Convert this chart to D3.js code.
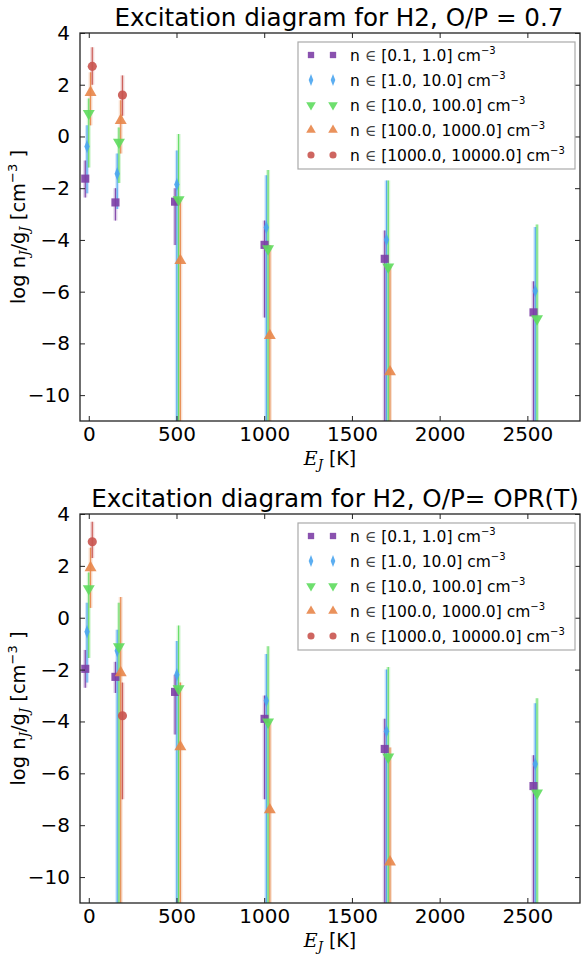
<!DOCTYPE html>
<html>
<head>
<meta charset="utf-8">
<script src="https://cdn.jsdelivr.net/npm/d3@7"></script>
<style>
	body { margin: 0; background: #fff; }
	svg text { font-family: "DejaVu Sans", sans-serif; fill: #000; }
</style>
</head>
<body>
<svg id="svg"></svg>
<script>

	"use strict";

	var energies = [0, 172, 512, 1022, 1707, 2555];
	var dodge = [-20, -10, 0, 10, 20];

	var binLabels = ["[0.1, 1.0]", "[1.0, 10.0]", "[10.0, 100.0]", "[100.0, 1000.0]", "[1000.0, 10000.0]"];
	var colors = ["#7d3fa6", "#4aa5f0", "#5edc5e", "#e8864a", "#c9544f"];

	var xTicks = [0, 500, 1000, 1500, 2000, 2500];
	var yTicks = [4, 2, 0, -2, -4, -6, -8, -10];

	var titles = ["Excitation diagram for H2, O/P = 0.7", "Excitation diagram for H2, O/P= OPR(T)"];

	// O/P = 0.7 panel : one row per density bin, one column per level
	var topValues = [
		[-1.63, -2.55, -2.52, -4.19, -4.73, -6.80],
		[-0.39, -1.44, -1.86, -3.52, -3.99, -5.97],
		[0.89, -0.22, -2.44, -4.34, -5.04, -7.05],
		[1.70, 0.62, -4.80, -7.70, -9.10, null],
		[2.71, 1.60, null, null, null, null]
	];
	var topUpper = [
		[-0.93, -2.00, -2.00, -3.25, -3.64, -5.60],
		[0.43, -0.66, -0.54, -1.50, -1.70, -3.50],
		[1.47, 0.35, 0.10, -1.30, -1.70, -3.40],
		[2.48, 1.40, -2.40, -4.20, -5.00, null],
		[3.45, 2.36, null, null, null, null]
	];
	var topLower = [
		[-2.36, -3.25, -4.20, -7.00, -12, -12],
		[-2.20, -2.80, -12, -12, -12, -12],
		[-1.20, -1.80, -12, -12, -12, -12],
		[0.43, -0.66, -12, -12, -12, null],
		[2.00, 0.80, null, null, null, null]
	];

	// O/P = OPR(T) panel
	var bottomValues = [
		[-1.97, -2.28, -2.86, -3.90, -5.06, -6.49],
		[-0.54, -1.27, -2.20, -3.20, -4.38, -5.64],
		[1.12, -1.12, -2.74, -4.02, -5.37, -6.76],
		[1.93, -2.12, -4.98, -7.41, -9.42, null],
		[2.93, -3.78, null, null, null, null]
	];
	var bottomUpper = [
		[-1.24, -1.70, -2.20, -3.00, -3.90, -5.30],
		[0.58, -0.46, -0.90, -1.40, -2.00, -3.30],
		[1.74, 0.58, -0.30, -1.10, -1.90, -3.10],
		[2.70, 0.80, -2.50, -4.00, -5.00, null],
		[3.70, -2.50, null, null, null, null]
	];
	var bottomLower = [
		[-2.70, -2.90, -4.50, -7.00, -12, -12],
		[-2.50, -12, -12, -12, -12, -12],
		[-1.55, -12, -12, -12, -12, -12],
		[0.38, -12, -12, -12, -12, null],
		[2.30, -7.00, null, null, null, null]
	];

	var
		width = 582,
		height = 955,

		svg = d3.select("#svg")
				.attr("width", width)
				.attr("height", height),

		x = d3.scaleLinear().domain([-50, 2800]).range([80, 580]),

		symbols = [
			d3.symbol().type(d3.symbolSquare).size(66),
			d3.symbol().type(d3.symbolDiamond).size(52),
			d3.symbol().type(d3.symbolTriangle).size(62),
			d3.symbol().type(d3.symbolTriangle).size(62),
			d3.symbol().type(d3.symbolCircle).size(66)
		],
		// extra transform per marker (diamond is thin, one triangle points down)
		symbolTf = ["", " scale(0.68,1)", " rotate(180)", "", ""],

		drawPanel = function(idx, top, bottom, values, upper, lower, titleX){

			var y = d3.scaleLinear().domain([-11, 4]).range([bottom, top]),
				g = svg.append("g").attr("class", "panel"),
				clipId = "clip" + idx;

			g.append("clipPath").attr("id", clipId)
				.append("rect")
				.attr("x", x.range()[0]).attr("y", top)
				.attr("width", x.range()[1] - x.range()[0])
				.attr("height", bottom - top);

			var plot = g.append("g").attr("clip-path", "url(#" + clipId + ")");

			// points flattened from the arrays
			var pts = [];
			values.forEach(function(row, s){
				row.forEach(function(v, j){
					if (v === null) return;
					pts.push({s: s, e: energies[j] + dodge[s], v: v, hi: upper[s][j], lo: lower[s][j]});
				});
			});

			// wide light band
			plot.selectAll("line.band")
				.data(pts)
				.enter()
				.append("line")
				.attr("class", "band")
				.attr("x1", function(d){return x(d.e)})
				.attr("x2", function(d){return x(d.e)})
				.attr("y1", function(d){return y(d.hi)})
				.attr("y2", function(d){return y(d.lo)})
				.style("stroke", function(d){return colors[d.s]})
				.style("stroke-width", 4)
				.style("stroke-opacity", 0.25);

			// thin error bar
			plot.selectAll("line.err")
				.data(pts)
				.enter()
				.append("line")
				.attr("class", "err")
				.attr("x1", function(d){return x(d.e)})
				.attr("x2", function(d){return x(d.e)})
				.attr("y1", function(d){return y(d.hi)})
				.attr("y2", function(d){return y(d.lo)})
				.style("stroke", function(d){return colors[d.s]})
				.style("stroke-width", 1.2)
				.style("stroke-opacity", 0.9);

			plot.selectAll("path.pt")
				.data(pts)
				.enter()
				.append("path")
				.attr("class", "pt")
				.attr("d", function(d){return symbols[d.s]()})
				.attr("transform", function(d){return "translate(" + x(d.e) + "," + y(d.v) + ")" + symbolTf[d.s]})
				.style("fill", function(d){return colors[d.s]})
				.style("fill-opacity", 0.9);

			// frame
			g.append("rect")
				.attr("x", x.range()[0]).attr("y", top)
				.attr("width", x.range()[1] - x.range()[0])
				.attr("height", bottom - top)
				.style("fill", "none")
				.style("stroke", "#222")
				.style("stroke-width", 1.3);

			// inward ticks on all four sides
			var tickLen = 5;
			var xAxisB = d3.axisBottom(x).tickValues(xTicks).tickSizeInner(-tickLen).tickSizeOuter(0).tickPadding(6)
							.tickFormat(d3.format("d")),
				xAxisT = d3.axisTop(x).tickValues(xTicks).tickSizeInner(-tickLen).tickSizeOuter(0).tickFormat(""),
				yAxisL = d3.axisLeft(y).tickValues(yTicks).tickSizeInner(-tickLen).tickSizeOuter(0).tickPadding(10)
							.tickFormat(function(d){return d < 0 ? "\u2212" + Math.abs(d) : d}),
				yAxisR = d3.axisRight(y).tickValues(yTicks).tickSizeInner(-tickLen).tickSizeOuter(0).tickFormat("");

			[[xAxisB, "translate(0," + bottom + ")"],
			 [xAxisT, "translate(0," + top + ")"],
			 [yAxisL, "translate(" + x.range()[0] + ",0)"],
			 [yAxisR, "translate(" + x.range()[1] + ",0)"]].forEach(function(a){
				var ax = g.append("g").attr("transform", a[1]).call(a[0]);
				ax.select(".domain").remove();
				ax.selectAll("line").style("stroke", "#222");
				ax.selectAll("text")
					.style("font-family", "DejaVu Sans, sans-serif")
					.style("font-size", "20px")
					.style("fill", "#000");
			});

			// title
			g.append("text")
				.attr("x", titleX)
				.attr("y", top - 7)
				.attr("text-anchor", "middle")
				.style("font-size", "24.6px")
				.text(titles[idx]);

			// x label
			var xl = g.append("text")
				.attr("x", (x.range()[0] + x.range()[1]) / 2)
				.attr("y", bottom + 44)
				.attr("text-anchor", "middle")
				.style("font-size", "19px");
			xl.append("tspan").style("font-family", "DejaVu Serif, serif").style("font-style", "italic").text("E");
			xl.append("tspan").attr("dy", 4).style("font-size", "13px").style("font-family", "DejaVu Serif, serif").style("font-style", "italic").text("J");
			xl.append("tspan").attr("dy", -4).text(" [K]");

			// y label
			var yl = g.append("text")
				.attr("transform", "translate(25," + (top + bottom) / 2 + ") rotate(-90)")
				.attr("text-anchor", "middle")
				.style("font-size", "19.5px");
			yl.append("tspan").text("log n");
			yl.append("tspan").attr("dy", 4).style("font-size", "13px").style("font-family", "DejaVu Serif, serif").style("font-style", "italic").text("J");
			yl.append("tspan").attr("dy", -4).text("/g");
			yl.append("tspan").attr("dy", 4).style("font-size", "13px").style("font-family", "DejaVu Serif, serif").style("font-style", "italic").text("J");
			yl.append("tspan").attr("dy", -4).text("  [cm");
			yl.append("tspan").attr("dy", -8).style("font-size", "13px").text("\u22123");
			yl.append("tspan").attr("dy", 8).text(" ]");

			// legend
			var lgTop = top + 9, lgLeft = 298, lgRight = 575, rowH = 25;
			var lg = g.append("g");
			lg.append("rect")
				.attr("x", lgLeft).attr("y", lgTop)
				.attr("width", lgRight - lgLeft)
				.attr("height", rowH * binLabels.length + 2)
				.style("fill", "#fff")
				.style("stroke", "#aaa")
				.style("stroke-width", 1.2);

			var rows = lg.selectAll("g.row")
				.data(binLabels)
				.enter()
				.append("g")
				.attr("class", "row")
				.attr("transform", function(d, i){return "translate(0," + (lgTop + 13 + i * rowH) + ")"});

			[311, 333].forEach(function(mx){
				rows.append("path")
					.attr("d", function(d, i){return symbols[i].size(40)()})
					.attr("transform", function(d, i){return "translate(" + mx + ",0)" + symbolTf[i]})
					.style("fill", function(d, i){return colors[i]})
					.style("fill-opacity", 0.9);
			});
			symbols.forEach(function(s, i){ s.size([66, 52, 62, 62, 66][i]) });

			var lt = rows.append("text")
				.attr("x", 350)
				.attr("y", 6)
				.style("font-size", "15.5px");
			lt.append("tspan").text(function(d){return "n "});
			lt.append("tspan").style("font-family", "DejaVu Serif, serif").style("fill", "#444").text("\u2208");
			lt.append("tspan").text(function(d){return " " + d + " cm"});
			lt.append("tspan").attr("dy", -7).style("font-size", "10px").text("\u22123");
		};

	drawPanel(0, 33, 421, topValues, topUpper, topLower, 339);
	drawPanel(1, 514, 903, bottomValues, bottomUpper, bottomLower, 335);

</script>
</body>
</html>
